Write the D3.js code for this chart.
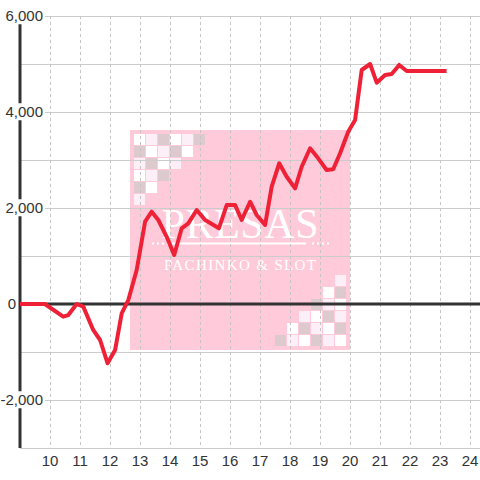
<!DOCTYPE html>
<html>
<head>
<meta charset="utf-8">
<script src="https://cdn.jsdelivr.net/npm/d3@7"></script>
<style>
  body { margin: 0; background: #fff; }
  svg { display: block; }
</style>
</head>
<body>
<div id="chart"></div>
<script>
// hours of day (decimal) and running balance
let hours = [9.0, 9.83, 10.44, 10.61, 10.89, 11.11, 11.44, 11.67, 11.92, 12.17, 12.39, 12.61,
  12.89, 13.17, 13.39, 13.61, 13.89, 14.14, 14.39, 14.61, 14.89, 15.17, 15.63, 15.89,
  16.17, 16.39, 16.67, 16.89, 17.17, 17.39, 17.64, 17.89, 18.17, 18.39, 18.67, 18.94,
  19.22, 19.44, 19.67, 19.94, 20.17, 20.39, 20.67, 20.89, 21.17, 21.39, 21.64, 21.89, 23.22]
let balance = [0, 0, -265, -230, 0, -55, -540, -750, -1235, -960, -195, 83,
  708, 1715, 1923, 1750, 1400, 1020, 1577, 1681, 1958, 1750, 1577, 2062,
  2062, 1750, 2131, 1854, 1646, 2444, 2931, 2652, 2410, 2860, 3244, 3035,
  2792, 2806, 3140, 3590, 3833, 4875, 5000, 4611, 4771, 4792, 4980, 4854, 4854]
let xTicks = [10, 11, 12, 13, 14, 15, 16, 17, 18, 19, 20, 21, 22, 23, 24]
let yTicks = [-2000, 0, 2000, 4000, 6000]
let yGrid = [-2000, -1000, 1000, 2000, 3000, 4000, 5000, 6000]

let width = 480, height = 480

let x = d3.scaleLinear().domain([9, 24]).range([20, 470])
let y = d3.scaleLinear().domain([-3000, 6000]).range([448, 16])

let svg = d3.select('#chart')
  .append('svg')
  .attr('width', width)
  .attr('height', height)

// watermark
let wm = svg.append('g').attr('class', 'watermark')
wm.append('rect')
  .attr('x', 130).attr('y', 130)
  .attr('width', 220).attr('height', 220)
  .attr('fill', '#ffcbda')

// checker pattern, 0 white, 1 light, 2 grey
let pattern = [
  [0, 1, 2, 0, 1, 2],
  [2, 0, 1, 2, 0],
  [1, 2, 0, 1],
  [0, 1, 2],
  [2, 0],
  [1]
]
let cellFill = ['#ffffff', '#fdeff8', '#dccace']
pattern.forEach(function(row, r) {
  row.forEach(function(c, i) {
    wm.append('rect')
      .attr('x', 134 + i * 12).attr('y', 134 + r * 12)
      .attr('width', 11).attr('height', 11)
      .attr('fill', cellFill[c])
    // same block turned round in the other corner
    wm.append('rect')
      .attr('x', 335 - i * 12).attr('y', 335 - r * 12)
      .attr('width', 11).attr('height', 11)
      .attr('fill', cellFill[c])
  })
})

wm.append('text')
  .attr('x', 240).attr('y', 238)
  .attr('text-anchor', 'middle')
  .attr('font-family', '"Liberation Serif", serif')
  .attr('font-size', 42)
  .attr('textLength', 157)
  .attr('fill', '#fff')
  .text('PRESAS')

wm.append('line')
  .attr('x1', 172).attr('x2', 306)
  .attr('y1', 243.5).attr('y2', 243.5)
  .attr('stroke', '#fff').attr('stroke-width', 2)
wm.selectAll('line.dots')
  .data([[152, 171], [312, 330]])
  .enter()
  .append('line')
  .attr('x1', function(d) { return d[0] })
  .attr('x2', function(d) { return d[1] })
  .attr('y1', 243.5).attr('y2', 243.5)
  .attr('stroke', '#fff').attr('stroke-width', 2)
  .attr('stroke-dasharray', '2,3')

wm.append('text')
  .attr('x', 240).attr('y', 270)
  .attr('text-anchor', 'middle')
  .attr('font-family', '"Liberation Serif", serif')
  .attr('font-size', 15)
  .attr('textLength', 152)
  .attr('fill', '#fff')
  .text('PACHINKO & SLOT')

// grid
svg.append('g')
  .selectAll('line')
  .data(yGrid)
  .enter()
  .append('line')
  .attr('x1', 20).attr('x2', width)
  .attr('y1', function(d) { return y(d) + 0.5 })
  .attr('y2', function(d) { return y(d) + 0.5 })
  .attr('stroke', '#cccccc')

svg.append('g')
  .selectAll('line')
  .data(xTicks)
  .enter()
  .append('line')
  .attr('x1', function(d) { return x(d) + 0.5 })
  .attr('x2', function(d) { return x(d) + 0.5 })
  .attr('y1', y(6000)).attr('y2', y(-3000))
  .attr('stroke', '#c4c4c4')
  .attr('stroke-dasharray', '3,3')

// bottom baseline
svg.append('line')
  .attr('x1', 20).attr('x2', width)
  .attr('y1', y(-3000) + 0.5).attr('y2', y(-3000) + 0.5)
  .attr('stroke', '#cccccc')

// zero line and y axis
svg.append('line')
  .attr('x1', 20).attr('x2', width)
  .attr('y1', y(0)).attr('y2', y(0))
  .attr('stroke', '#333').attr('stroke-width', 3)

svg.append('line')
  .attr('x1', 20).attr('x2', 20)
  .attr('y1', y(6000)).attr('y2', y(-3000))
  .attr('stroke', '#333').attr('stroke-width', 3)

// balance line
let line = d3.line()
  .x(function(d, i) { return x(hours[i]) })
  .y(function(d) { return y(d) })

svg.append('path')
  .datum(balance)
  .attr('d', line)
  .attr('fill', 'none')
  .attr('stroke', '#ee2136')
  .attr('stroke-width', 4)
  .attr('stroke-linejoin', 'round')

// y labels with white box behind
let fmt = d3.format(',')
let yl = svg.append('g')
  .selectAll('g')
  .data(yTicks)
  .enter()
  .append('g')

yl.append('text')
  .attr('x', function(d) { return d === 0 ? 16 : 43 })
  .attr('y', function(d) { return y(d) })
  .attr('dy', '0.35em')
  .attr('text-anchor', 'end')
  .attr('font-family', '"Liberation Sans", Arial, sans-serif')
  .attr('font-size', 15)
  .attr('fill', '#333')
  .text(function(d) { return fmt(d).replace('−', '-') })

yl.each(function() {
  let t = d3.select(this).select('text')
  let b = t.node().getBBox()
  d3.select(this).insert('rect', 'text')
    .attr('x', b.x - 1).attr('y', b.y)
    .attr('width', b.width + 3).attr('height', b.height)
    .attr('fill', '#fff')
})

// x labels
svg.append('g')
  .selectAll('text')
  .data(xTicks)
  .enter()
  .append('text')
  .attr('x', function(d) { return x(d) })
  .attr('y', 466)
  .attr('text-anchor', 'middle')
  .attr('font-family', '"Liberation Sans", Arial, sans-serif')
  .attr('font-size', 15)
  .attr('fill', '#333')
  .text(function(d) { return d })
</script>
</body>
</html>
